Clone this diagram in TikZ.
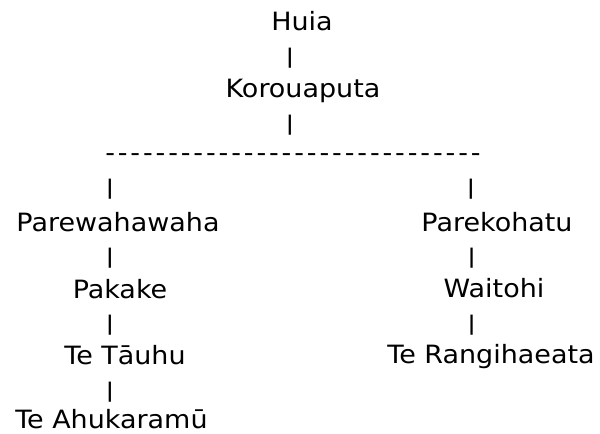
\documentclass[tikz,border=0pt]{standalone}
\usepackage{fontspec}
\newfontfamily\treefont{DejaVu Sans}[FakeStretch=1.07]
\begin{document}
\begin{tikzpicture}[x=0.75pt,y=-0.75pt,
  namebox/.style={inner sep=0pt,anchor=base,font=\treefont\fontsize{18.9pt}{22pt}\selectfont},
  barbox/.style={inner sep=0pt,anchor=center,font=\treefont\fontsize{18.9pt}{22pt}\selectfont},
  dashrow/.style={inner sep=0pt,anchor=base west,font=\treefont\fontsize{18.9pt}{22pt}\selectfont\addfontfeatures{LetterSpace=11.4}}]
\fill[white] (0,0) rectangle (600,433);
\useasboundingbox (0,0) rectangle (600,433);
% top
\node[namebox] (huia) at (302,30.7) {Huia};
\node[barbox] (b1) at (290,58) {\scalebox{1}[0.8]{|}};
\node[namebox] (koro) at (303,97.5) {Korouaputa};
\node[barbox] (b2) at (290,125) {\scalebox{1}[0.8]{|}};
\node[dashrow] (dashes) at (105,161) {------------------------------};
% left branch
\node[barbox] (bl1) at (110,188.7) {\scalebox{1}[0.8]{|}};
\node[namebox] (parew) at (118,231.7) {Parewahawaha};
\node[barbox] (bl2) at (110,258) {\scalebox{1}[0.8]{|}};
\node[namebox] (pakake) at (120,298) {Pakake};
\node[barbox] (bl3) at (110,325) {\scalebox{1}[0.8]{|}};
\node[namebox] (tauhu) at (125,364) {Te Tāuhu};
\node[barbox] (bl4) at (110,391.7) {\scalebox{1}[0.8]{|}};
\node[namebox,anchor=base west] (ahuk) at (15,428) {Te Ahukaramū};
% right branch
\node[barbox] (br1) at (471,188.7) {\scalebox{1}[0.8]{|}};
\node[namebox] (parek) at (497,231.7) {Parekohatu};
\node[barbox] (br2) at (471.7,258) {\scalebox{1}[0.8]{|}};
\node[namebox] (waitohi) at (494,297.5) {Waitohi};
\node[barbox] (br3) at (471.7,325) {\scalebox{1}[0.8]{|}};
\node[namebox] (rangi) at (491,363.5) {Te Rangihaeata};
\end{tikzpicture}
\end{document}
